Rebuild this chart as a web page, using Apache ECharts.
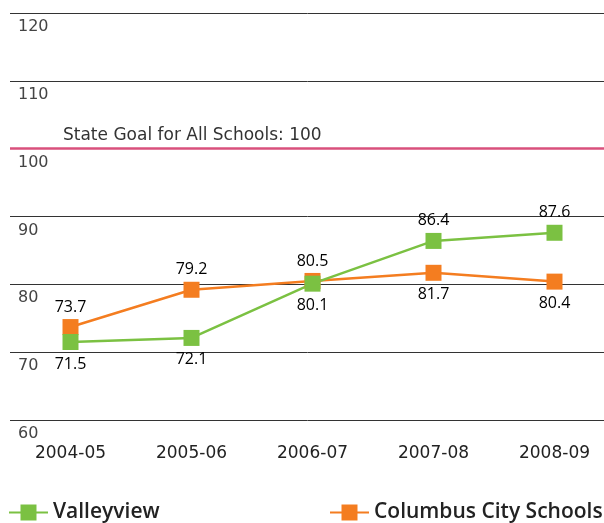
<!DOCTYPE html>
<html>
<head>
<meta charset="utf-8">
<script src="https://cdn.jsdelivr.net/npm/echarts@6/dist/echarts.min.js"></script>
<style>
  html, body { margin: 0; padding: 0; background: #fff; }
  #chart { width: 604px; height: 523px; }
</style>
</head>
<body>
<div id="chart"></div>
<script>
// chart values
var years = ['2004-05', '2005-06', '2006-07', '2007-08', '2008-09'];
var valleyview = [71.5, 72.1, 80.1, 86.4, 87.6];
var columbus = [73.7, 79.2, 80.5, 81.7, 80.4];
var stateGoal = 100;
var yTicks = [60, 70, 80, 90, 100, 110, 120];

// where each value label sits (above / below the marker)
var vvLabelPos = ['bottom', 'bottom', 'bottom', 'top', 'top'];
var ccLabelPos = ['top', 'top', 'top', 'bottom', 'bottom'];

var font = '"Open Sans", sans-serif';
var axisFont = '"DejaVu Sans", sans-serif';

function withLabels(values, pos) {
  return values.map(function (v, i) {
    return {
      value: v,
      label: { position: pos[i], distance: pos[i] === 'bottom' ? 6 : 4 }
    };
  });
}

var chart = echarts.init(document.getElementById('chart'));

var legendText = { fontFamily: font, fontSize: 21, fontWeight: 600, color: '#222' };
var valueLabel = { show: true, fontFamily: font, fontSize: 16, color: '#000' };

var option = {
  animation: false,
  grid: { left: 10, top: 13, width: 605, height: 407, outerBoundsMode: 'none' },
  xAxis: {
    type: 'category',
    data: years,
    boundaryGap: true,
    axisLine: { show: false },
    axisTick: { show: false },
    axisLabel: { fontFamily: axisFont, fontSize: 17, color: '#222', margin: 25 }
  },
  yAxis: {
    type: 'value',
    min: yTicks[0],
    max: yTicks[yTicks.length - 1],
    interval: 10,
    axisLine: { show: false },
    axisTick: { show: false },
    axisLabel: {
      inside: true,
      margin: 8,
      align: 'left',
      verticalAlign: 'top',
      padding: [6, 0, 0, 0],
      fontFamily: axisFont,
      fontSize: 16,
      color: '#444'
    },
    splitLine: { lineStyle: { color: '#333', width: 1 } }
  },
  legend: [
    {
      data: ['Valleyview'],
      left: 8, top: 502, padding: 0,
      itemWidth: 39, itemHeight: 20, itemGap: 0,
      textStyle: legendText
    },
    {
      data: ['Columbus City Schools'],
      left: 329, top: 502, padding: 0,
      itemWidth: 39, itemHeight: 20, itemGap: 0,
      textStyle: legendText
    }
  ],
  series: [
    {
      name: 'Columbus City Schools',
      type: 'line',
      data: withLabels(columbus, ccLabelPos),
      symbol: 'rect',
      symbolSize: 16,
      lineStyle: { color: '#f47d20', width: 2.5 },
      itemStyle: { color: '#f47d20' },
      label: valueLabel,
      markLine: {
        silent: true,
        symbol: 'none',
        data: [{ yAxis: stateGoal }],
        lineStyle: { color: '#d9507c', width: 2.5, type: 'solid' },
        label: {
          position: 'insideStartTop',
          formatter: 'State Goal for All Schools: ' + stateGoal,
          fontFamily: axisFont,
          fontSize: 17,
          color: '#333',
          padding: [0, 0, 0, 48]
        }
      }
    },
    {
      name: 'Valleyview',
      type: 'line',
      data: withLabels(valleyview, vvLabelPos),
      symbol: 'rect',
      symbolSize: 16,
      lineStyle: { color: '#7bc142', width: 2.5 },
      itemStyle: { color: '#7bc142' },
      label: valueLabel
    }
  ]
};

chart.setOption(option);
</script>
</body>
</html>
